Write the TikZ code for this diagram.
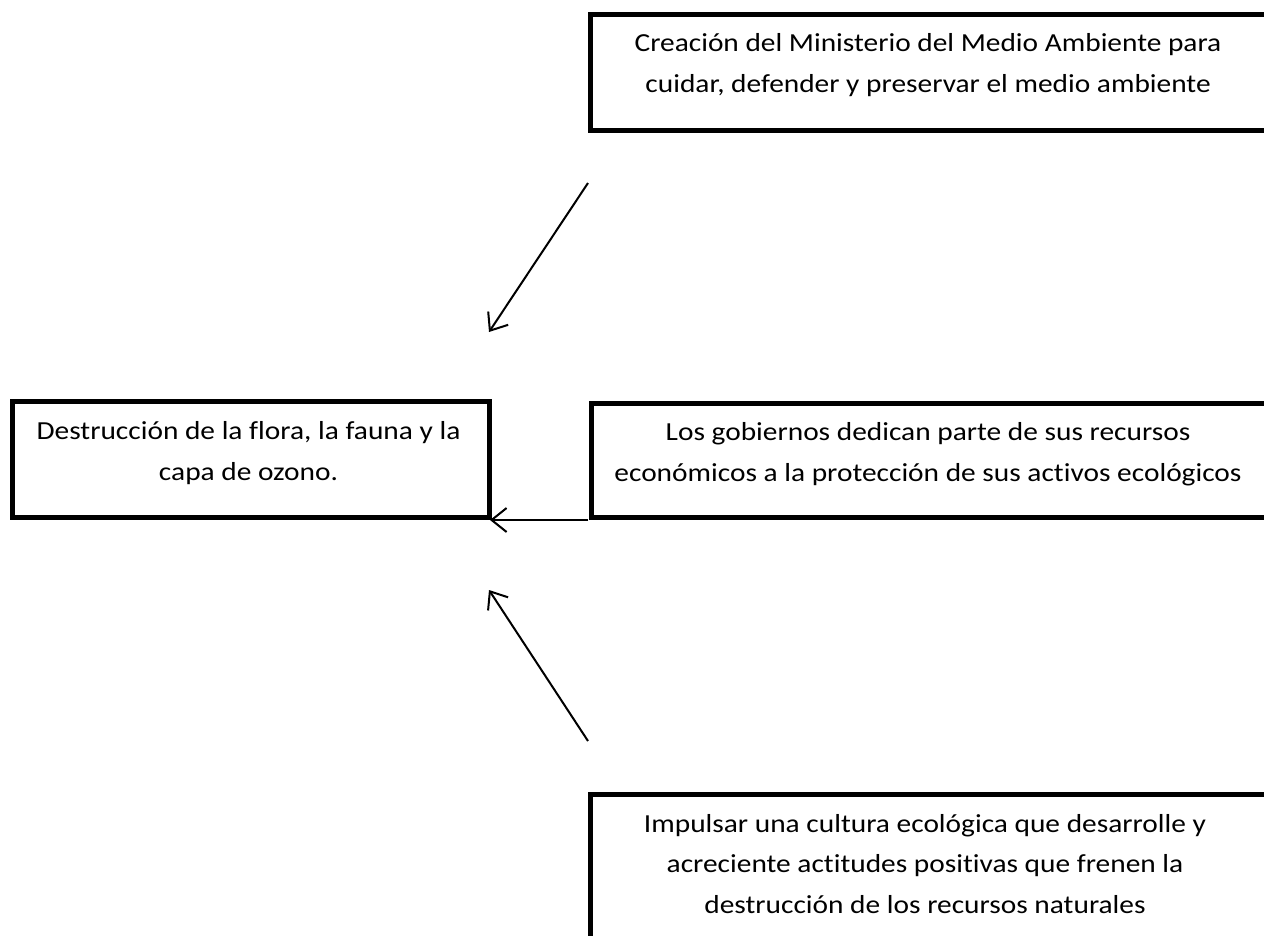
\documentclass[tikz,border=0pt]{standalone}
\usepackage{fontspec}
\setmainfont{Carlito}[Ligatures={NoCommon},FakeStretch=1.13]
\usetikzlibrary{arrows.meta}
\begin{document}
\begin{tikzpicture}[x=1pt,y=-1pt,
  boxnode/.style={draw=black,line width=4.5pt,rectangle,inner sep=0pt,anchor=north west},
  txt/.style={align=center,inner sep=0pt,font=\fontsize{26}{40.8}\selectfont},
  conn/.style={line width=2pt,-{Straight Barb[length=15pt,width=24pt,line width=2pt]}}]
\clip (0,0) rectangle (1264,935);
\fill[white] (0,0) rectangle (1264,935);
% boxes
\node[boxnode,minimum width=720pt,minimum height=116pt] (top) at (588,12) {};
\node[boxnode,minimum width=477pt,minimum height=116pt] (left) at (10,399) {};
\node[boxnode,minimum width=720pt,minimum height=114pt] (mid) at (589,401) {};
\node[boxnode,minimum width=720pt,minimum height=300pt] (bot) at (588,792) {};
% texts
\node[txt] (toptext) at (928,65) {Creación del Ministerio del Medio Ambiente para\\cuidar, defender y preservar el medio ambiente};
\node[txt] (lefttext) at (248.5,453) {Destrucción de la flora, la fauna y la\\capa de ozono.};
\node[txt] (midtext) at (928,454) {Los gobiernos dedican parte de sus recursos\\económicos a la protección de sus activos ecológicos};
\node[txt] (bottext) at (925,864) {Impulsar una cultura ecológica que desarrolle y\\acreciente actitudes positivas que frenen la\\destrucción de los recursos naturales};
% connector ends
\coordinate (a1s) at (588,183);
\coordinate (a1e) at (489,332);
\coordinate (a2s) at (588,520);
\coordinate (a2e) at (490,520);
\coordinate (a3s) at (588,741);
\coordinate (a3e) at (489,590);
\draw[conn] (a1s) -- (a1e);
\draw[conn] (a2s) -- (a2e);
\draw[conn] (a3s) -- (a3e);
\end{tikzpicture}
\end{document}
